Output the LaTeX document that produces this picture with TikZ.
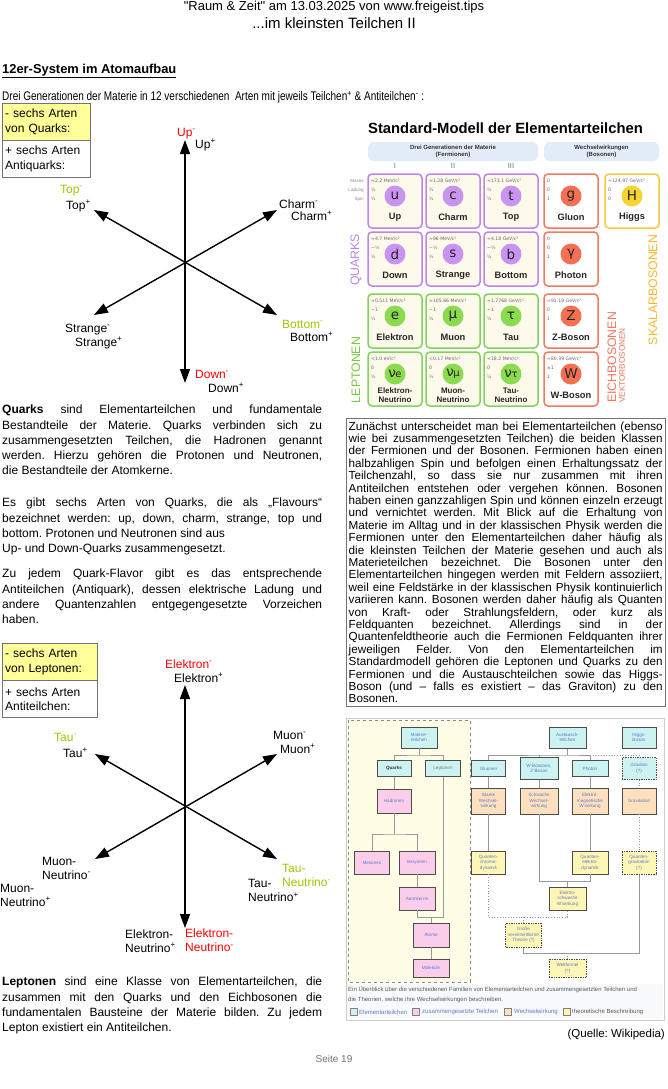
\documentclass[tikz,border=0pt]{standalone}
\usepackage{fontspec}
\setmainfont{Liberation Sans}
\newfontfamily\rohfont{Liberation Sans}
\newfontfamily\smfont{DejaVu Sans}
\usetikzlibrary{arrows.meta}

\definecolor{rotneg}{RGB}{255,0,0}
\definecolor{gruenneg}{RGB}{158,200,0}
\definecolor{kastengelb}{RGB}{255,255,153}
\definecolor{randq}{RGB}{190,132,232}
\definecolor{kreisq}{RGB}{200,148,240}
\definecolor{innenq}{RGB}{253,250,236}
\definecolor{randl}{RGB}{132,210,92}
\definecolor{kreisl}{RGB}{140,218,80}
\definecolor{innenl}{RGB}{253,250,236}
\definecolor{rande}{RGB}{240,122,98}
\definecolor{kreise}{RGB}{244,112,82}
\definecolor{innene}{RGB}{255,255,255}
\definecolor{randh}{RGB}{246,202,62}
\definecolor{kreish}{RGB}{245,212,50}
\definecolor{innenh}{RGB}{255,255,255}
\definecolor{textq}{RGB}{185,135,232}
\definecolor{textl}{RGB}{120,200,70}
\definecolor{texte}{RGB}{240,120,96}
\definecolor{texth}{RGB}{245,185,46}
\definecolor{pille}{RGB}{226,236,249}
\definecolor{elemfarbe}{RGB}{204,243,240}
\definecolor{zusfarbe}{RGB}{250,205,235}
\definecolor{wwfarbe}{RGB}{253,225,190}
\definecolor{theofarbe}{RGB}{253,246,180}
\definecolor{bereich}{RGB}{255,253,229}
\definecolor{linkblau}{RGB}{100,120,200}
\definecolor{bildgrau}{RGB}{248,249,250}

\newcommand\plusT{\textsuperscript{+}}
\newcommand\minusT{\textsuperscript{-}}
\hyphenpenalty=10000
\exhyphenpenalty=10000
\frenchspacing

\begin{document}
\begin{tikzpicture}[x=1pt,y=-1pt,>={Triangle[length=14pt,width=10pt]},
    etikett/.style={inner sep=0pt,anchor=west,font=\fontsize{12}{14}\selectfont,
                    text height=8.6pt,text depth=2.6pt},
    etikett2/.style={inner sep=0pt,anchor=west,align=left,font=\fontsize{12}{14}\selectfont},
    absatz/.style={inner sep=0pt,anchor=north west,text width=320pt,align=justify,
                   font=\fontsize{12}{15.2}\selectfont},
    achse/.style={<->,line width=1.4pt},
    infokasten/.style={draw=black!55,anchor=north west,text width=#1,minimum height=37pt,
                       align=left,inner xsep=3pt,inner ysep=2pt,font=\fontsize{12}{14.5}\selectfont},
    pillstil/.style={fill=pille,rounded corners=6pt,inner sep=0pt,minimum height=19pt,
                     align=center,font=\bfseries\fontsize{6}{7.6}\selectfont,text=black!80},
    roem/.style={inner sep=0pt,text=black!55,font=\fontsize{7.5}{8}\selectfont},
    kopfzeile/.style={inner sep=0pt,anchor=east,text=black!45,font=\fontsize{4.6}{5}\selectfont},
    daten/.style={inner sep=0pt,anchor=west,text=black!60,font=\smfont\fontsize{4.6}{5}\selectfont},
    kugel/.style={circle,inner sep=0pt,minimum size=21pt,font=\smfont\fontsize{13.5}{14}\selectfont,
                  text=black!85},
    teilname/.style={inner sep=0pt,align=center,text=black!85},
    senkrecht/.style={rotate=90,inner sep=0pt,font=\fontsize{12.3}{13}\selectfont},
    kiste/.style={draw=black!70,line width=0.7pt,inner sep=0pt,align=center,text=linkblau,
                  font=\fontsize{4.6}{5.6}\selectfont},
    elem/.style={kiste,fill=elemfarbe},
    zus/.style={kiste,fill=zusfarbe},
    ww/.style={kiste,fill=wwfarbe},
    theo/.style={kiste,fill=theofarbe},
    unsicher/.style={densely dotted,line width=1pt},
    ast/.style={draw=black!40,line width=0.7pt},
    legfeld/.style={draw=black!50,line width=0.5pt,minimum width=7pt,minimum height=7pt,inner sep=0pt},
    legtext/.style={inner sep=0pt,anchor=west,font=\fontsize{6}{7}\selectfont,text=linkblau}]

  \useasboundingbox (0,0) rectangle (668,1089);
  \fill[white] (0,0) rectangle (668,1089);

  % kopf
  \node[inner sep=0pt] (kopf1) at (334,7) {\rohfont\fontsize{13}{14}\selectfont "Raum \& Zeit" am 13.03.2025 von www.freigeist.tips};
  \node[inner sep=0pt] (kopf2) at (334,23) {\fontsize{15}{16}\selectfont ...im kleinsten Teilchen II};
  \node[anchor=west,inner sep=0pt] (titel) at (2,71) {\fontsize{12.9}{14}\selectfont\bfseries\underline{12er-System im Atomaufbau}};
  \node[anchor=west,inner sep=0pt] (einleitung) at (2,97) {\scalebox{0.8}[1]{\fontsize{12.5}{14}\selectfont Drei Generationen der Materie in 12 verschiedenen\ \ Arten mit jeweils Teilchen\plusT\ \& Antiteilchen\minusT\ :}};

  % quarks
  \node[infokasten=82pt,fill=kastengelb] (qkasten) at (2,103) {- sechs Arten\\von Quarks:};
  \node[infokasten=82pt] (qanti) at (qkasten.south west) {+ sechs Arten\\Antiquarks:};

  \coordinate (qup) at (185,140);
  \coordinate (qdown) at (185,383);
  \coordinate (qtl) at (94,210);
  \coordinate (qbr) at (277,315);
  \coordinate (qtr) at (277,210);
  \coordinate (qbl) at (94,315);
  \draw[achse] (qup) -- (qdown);
  \draw[achse] (qtl) -- (qbr);
  \draw[achse] (qtr) -- (qbl);

  \node[etikett,text=rotneg] (upm) at (177,133) {Up\minusT};
  \node[etikett] (upp) at (195,145) {Up\plusT};
  \node[etikett,text=gruenneg] (topm) at (60,190) {Top\minusT};
  \node[etikett] (topp) at (66,206) {Top\plusT};
  \node[etikett] (charmm) at (279,205) {Charm\minusT};
  \node[etikett] (charmp) at (291,217) {Charm\plusT};
  \node[etikett] (strangem) at (65,329) {Strange\minusT};
  \node[etikett] (strangep) at (75,343) {Strange\plusT};
  \node[etikett,text=gruenneg] (bottomm) at (282,325) {Bottom\minusT};
  \node[etikett] (bottomp) at (290,338) {Bottom\plusT};
  \node[etikett,text=rotneg] (downm) at (195,375) {Down\minusT};
  \node[etikett] (downp) at (208,389) {Down\plusT};

  \node[absatz] (quarktext1) at (2,405) {\textbf{Quarks} sind Elementarteilchen und fundamentale\linebreak
    Bestandteile der Materie. Quarks verbinden sich zu\linebreak
    zusammengesetzten Teilchen, die Hadronen genannt\linebreak
    werden. Hierzu gehören die Protonen und Neutronen,\linebreak
    die Bestandteile der Atomkerne.};
  \node[absatz] (quarktext2) at (2,498) {Es gibt sechs Arten von Quarks, die als „Flavours“\linebreak
    bezeichnet werden: up, down, charm, strange, top und\linebreak
    bottom. Protonen und Neutronen sind aus\\
    Up- und Down-Quarks zusammengesetzt.};
  \node[absatz] (quarktext3) at (2,569) {Zu jedem Quark-Flavor gibt es das entsprechende\linebreak
    Antiteilchen (Antiquark), dessen elektrische Ladung und\linebreak
    andere Quantenzahlen entgegengesetzte Vorzeichen\linebreak
    haben.};

  % leptonen
  \node[infokasten=89pt,fill=kastengelb] (lkasten) at (2,643) {- sechs Arten\\von Leptonen:};
  \node[infokasten=89pt] (lanti) at (lkasten.south west) {+ sechs Arten\\Antiteilchen:};

  \coordinate (lup) at (185,685);
  \coordinate (ldown) at (185,928);
  \coordinate (ltl) at (95,754);
  \coordinate (lbr) at (277,859);
  \coordinate (ltr) at (277,754);
  \coordinate (lbl) at (95,859);
  \draw[achse] (lup) -- (ldown);
  \draw[achse] (ltl) -- (lbr);
  \draw[achse] (ltr) -- (lbl);

  \node[etikett,text=rotneg] (elm) at (165,665) {Elektron\minusT};
  \node[etikett] (elp) at (174,679) {Elektron\plusT};
  \node[etikett,text=gruenneg] (taum) at (54,738) {Tau\minusT};
  \node[etikett] (taup) at (63,754) {Tau\plusT};
  \node[etikett] (muonm) at (273,736) {Muon\minusT};
  \node[etikett] (muonp) at (280,750) {Muon\plusT};
  \node[etikett2] (mnm) at (42,868) {Muon-\\Neutrino\minusT};
  \node[etikett2] (mnp) at (0,895) {Muon-\\Neutrino\plusT};
  \node[etikett2,text=gruenneg] (tnm) at (282,875.5) {Tau-\\Neutrino\minusT};
  \node[etikett2] (tnp) at (248,890.5) {Tau-\\Neutrino\plusT};
  \node[etikett2] (enp) at (125,941) {Elektron-\\Neutrino\plusT};
  \node[etikett2,text=rotneg] (enm) at (185,940.5) {Elektron-\\Neutrino\minusT};

  \node[absatz] (leptontext) at (2,977) {\textbf{Leptonen} sind eine Klasse von Elementarteilchen, die\linebreak
    zusammen mit den Quarks und den Eichbosonen die\linebreak
    fundamentalen Bausteine der Materie bilden. Zu jedem\linebreak
    Lepton existiert ein Antiteilchen.};

  % standardmodell
  \node[inner sep=0pt,font=\bfseries\fontsize{14.8}{16}\selectfont] (smtitel) at (505.5,128) {Standard-Modell der Elementarteilchen};
  \node[pillstil,minimum width=170pt] (pferm) at (453,151.5) {Drei Generationen der Materie\\(Fermionen)};
  \node[pillstil,minimum width=115pt] (pbos) at (601.5,151.5) {Wechselwirkungen\\(Bosonen)};
  \node[roem] (gen1) at (395,166) {I};
  \node[roem] (gen2) at (453,166) {II};
  \node[roem] (gen3) at (511,166) {III};
  \node[kopfzeile] (kmasse) at (364,181) {Masse};
  \node[kopfzeile] (kladung) at (364,190) {Ladung};
  \node[kopfzeile] (kspin) at (364,199) {Spin};

  \foreach \cx/\cy/\typ/\mw/\lw/\sw/\sym/\nm/\nf [count=\i] in {
      368/174/q/{≈2.2 MeV\slash c²}/⅔/½/u/Up/9.3,
      426/174/q/{≈1.28 GeV\slash c²}/⅔/½/c/Charm/9.3,
      484/174/q/{≈173.1 GeV\slash c²}/⅔/½/t/Top/9.3,
      544/174/e/0/0/1/g/Gluon/9.3,
      605/174/h/{≈124.97 GeV\slash c²}/0/0/H/Higgs/9.3,
      368/232/q/{≈4.7 MeV\slash c²}/−⅓/½/d/Down/9.3,
      426/232/q/{≈96 MeV\slash c²}/−⅓/½/s/Strange/9.3,
      484/232/q/{≈4.18 GeV\slash c²}/−⅓/½/b/Bottom/9.3,
      544/232/e/0/0/1/γ/Photon/9.3,
      368/294/l/{≈0.511 MeV\slash c²}/−1/½/e/Elektron/9.3,
      426/294/l/{≈105.66 MeV\slash c²}/−1/½/μ/Muon/9.3,
      484/294/l/{≈1.7768 GeV\slash c²}/−1/½/τ/Tau/9.3,
      544/294/e/{≈91.19 GeV\slash c²}/0/1/Z/Z-Boson/9.3,
      368/352/l/{<1.0 eV\slash c²}/0/½/{ν\kern-0.5pt{\fontsize{10}{10}\selectfont e}}/{Elektron-\\Neutrino}/8,
      426/352/l/{<0.17 MeV\slash c²}/0/½/{ν\kern-0.5pt{\fontsize{10}{10}\selectfont μ}}/{Muon-\\Neutrino}/8,
      484/352/l/{<18.2 MeV\slash c²}/0/½/{ν\kern-0.5pt{\fontsize{10}{10}\selectfont τ}}/{Tau-\\Neutrino}/8,
      544/352/e/{≈80.39 GeV\slash c²}/±1/1/W/W-Boson/9.3} {
    \draw[draw=rand\typ,fill=innen\typ,line width=1.5pt,rounded corners=4pt] (\cx,\cy) rectangle ++(54,54);
    \node[daten] (m\i) at (\cx+3,\cy+7) {\mw};
    \node[daten] (l\i) at (\cx+3,\cy+16) {\lw};
    \node[daten] (s\i) at (\cx+3,\cy+25) {\sw};
    \node[kugel,fill=kreis\typ] (k\i) at (\cx+27,\cy+22) {\sym};
    \node[teilname,font=\bfseries\fontsize{\nf}{9}\selectfont] (n\i) at (\cx+27,\cy+43) {\nm};
  }

  \node[senkrecht,text=textq] (tquarks) at (356,260) {QUARKS};
  \node[senkrecht,text=textl] (tleptonen) at (356,370) {LEPTONEN};
  \node[senkrecht,text=texte] (teich) at (612,357.5) {EICHBOSONEN};
  \node[senkrecht,text=texte,font=\fontsize{8.2}{9}\selectfont] (tvektor) at (622,365.5) {VEKTORBOSONEN};
  \node[senkrecht,text=texth] (tskalar) at (653,290) {SKALARBOSONEN};

  % textkasten
  \node[draw=black!55,anchor=north west,text width=314pt,align=justify,inner xsep=2.5pt,
        inner ysep=3.5pt,font=\fontsize{11.7}{12.4}\selectfont] (erklaerung) at (346,418) {Zunächst unterscheidet man bei Elementarteilchen (ebenso\linebreak
    wie bei zusammengesetzten Teilchen) die beiden Klassen\linebreak
    der Fermionen und der Bosonen. Fermionen haben einen\linebreak
    halbzahligen Spin und befolgen einen Erhaltungssatz der\linebreak
    Teilchenzahl, so dass sie nur zusammen mit ihren\linebreak
    Antiteilchen entstehen oder vergehen können. Bosonen\linebreak
    haben einen ganzzahligen Spin und können einzeln erzeugt\linebreak
    und vernichtet werden. Mit Blick auf die Erhaltung von\linebreak
    Materie im Alltag und in der klassischen Physik werden die\linebreak
    Fermionen unter den Elementarteilchen daher häufig als\linebreak
    die kleinsten Teilchen der Materie gesehen und auch als\linebreak
    Materieteilchen bezeichnet. Die Bosonen unter den\linebreak
    Elementarteilchen hingegen werden mit Feldern assoziiert,\linebreak
    weil eine Feldstärke in der klassischen Physik kontinuierlich\linebreak
    variieren kann. Bosonen werden daher häufig als Quanten\linebreak
    von Kraft- oder Strahlungsfeldern, oder kurz als\linebreak
    Feldquanten bezeichnet. Allerdings sind in der\linebreak
    Quantenfeldtheorie auch die Fermionen Feldquanten ihrer\linebreak
    jeweiligen Felder. Von den Elementarteilchen im\linebreak
    Standardmodell gehören die Leptonen und Quarks zu den\linebreak
    Fermionen und die Austauschteilchen sowie das Higgs-\linebreak
    Boson (und – falls es existiert – das Graviton) zu den\linebreak
    Bosonen.};

  % familien
  \draw[draw=black!20,fill=white] (346,718) rectangle (664,1020);
  \fill[bildgrau] (347,984) rectangle (663,1019);
  \draw[dashed,draw=black!45,fill=bereich] (348,720) rectangle (470,982);

  \node[elem,minimum width=36pt,minimum height=21pt] (mat) at (419,737.5) {Materie-\\teilchen};
  \node[elem,minimum width=34pt,minimum height=16pt,text=black!80,font=\bfseries\fontsize{4.6}{5.6}\selectfont] (quarks) at (394,768.5) {Quarks};
  \node[elem,minimum width=35pt,minimum height=16pt,text=black!50] (leptonen) at (443,768.5) {Leptonen};
  \node[zus,minimum width=34pt,minimum height=24pt] (hadronen) at (394,801) {Hadronen};
  \node[zus,minimum width=35pt,minimum height=23pt] (mesonen) at (372,862.5) {Mesonen};
  \node[zus,minimum width=36pt,minimum height=23pt] (baryonen) at (417,862.5) {Baryonen};
  \node[zus,minimum width=36pt,minimum height=23pt] (atomkerne) at (417,898.5) {Atomkerne};
  \node[zus,minimum width=36pt,minimum height=24pt] (atome) at (431,935) {Atome};
  \node[zus,minimum width=36pt,minimum height=18pt] (molekuele) at (431,968) {Moleküle};

  \node[elem,minimum width=37pt,minimum height=21pt,line width=1pt] (austausch) at (567.5,737.5) {Austausch-\\teilchen};
  \node[elem,minimum width=34pt,minimum height=21pt] (higgs) at (639,737.5) {Higgs-\\Boson};
  \node[elem,minimum width=34pt,minimum height=16pt] (gluonen) at (488.5,768.5) {Gluonen};
  \node[elem,minimum width=38pt,minimum height=22pt] (wzboson) at (539,768.5) {W-Bosonen,\\Z-Boson};
  \node[elem,minimum width=36pt,minimum height=16pt] (photon) at (590,768.5) {Photon};
  \node[elem,unsicher,minimum width=34pt,minimum height=22pt] (graviton) at (639,768.5) {Graviton\\(?)};
  \node[ww,minimum width=34pt,minimum height=26pt] (starke) at (488.5,801) {Starke\\Wechsel-\\wirkung};
  \node[ww,minimum width=38pt,minimum height=26pt] (schwache) at (539,801) {Schwache\\Wechsel-\\wirkung};
  \node[ww,minimum width=36pt,minimum height=26pt] (elektromag) at (590,801) {Elektro-\\magnetische\\W'wirkung};
  \node[ww,minimum width=34pt,minimum height=26pt] (gravitation) at (639,801) {Gravitation};
  \node[theo,minimum width=34pt,minimum height=23pt] (qcd) at (488.5,862.5) {Quanten-\\chromo-\\dynamik};
  \node[theo,minimum width=36pt,minimum height=23pt] (qed) at (590,862.5) {Quanten-\\elektro-\\dynamik};
  \node[theo,unsicher,minimum width=34pt,minimum height=23pt] (qg) at (639,862.5) {Quanten-\\gravitation\\(?)};
  \node[theo,minimum width=37pt,minimum height=23pt] (eschwach) at (567.5,898.5) {Elektro-\\schwache\\W'wirkung};
  \node[theo,unsicher,minimum width=36pt,minimum height=24pt] (gut) at (523.5,935) {Große\\vereinheitlichte\\Theorie (?)};
  \node[theo,unsicher,minimum width=37pt,minimum height=18pt] (welt) at (567.5,968) {Weltformel\\(?)};

  \coordinate (matbar) at (419,755);
  \coordinate (hadbar) at (394,834);
  \coordinate (kernbar) at (431,917);
  \coordinate (wwbar) at (567.5,755);
  \coordinate (ewbar) at (567.5,881);
  \coordinate (gutbar) at (523.5,917);
  \coordinate (weltbar) at (567.5,953);

  \draw[ast] (mat) -- (matbar);
  \draw[ast] (quarks) |- (matbar) -| (leptonen);
  \draw[ast] (quarks) -- (hadronen);
  \draw[ast] (hadronen) -- (hadbar);
  \draw[ast] (mesonen) |- (hadbar) -| (baryonen);
  \draw[ast] (baryonen) -- (atomkerne);
  \draw[ast] (atomkerne) |- (kernbar) -| (leptonen);
  \draw[ast] (kernbar) -- (atome);
  \draw[ast] (atome) -- (molekuele);

  \draw[ast] (austausch) -- (wwbar);
  \draw[ast] (gluonen) |- (wwbar) -| (photon);
  \draw[ast] (wzboson) -- (wzboson |- wwbar);
  \draw[ast,dotted] (photon |- wwbar) -| (graviton);
  \draw[ast] (gluonen) -- (starke);
  \draw[ast] (starke) -- (qcd);
  \draw[ast] (wzboson) -- (schwache);
  \draw[ast] (photon) -- (elektromag);
  \draw[ast] (elektromag) -- (qed);
  \draw[ast,dotted] (graviton) -- (gravitation);
  \draw[ast,dotted] (gravitation) -- (qg);
  \draw[ast] (schwache) |- (ewbar) -| (qed);
  \draw[ast] (ewbar) -- (eschwach);
  \draw[ast,dotted] (qcd) |- (gutbar) -| (eschwach);
  \draw[ast,dotted] (gutbar) -- (gut);
  \draw[ast] (gut) |- (weltbar) -| (qg);
  \draw[ast,dotted] (weltbar) -- (welt);

  \node[inner sep=0pt,anchor=north west,align=left,text=black!65,font=\fontsize{6}{10.5}\selectfont] (bildtext) at (348,986) {Ein Überblick über die verschiedenen Familien von Elementarteilchen und zusammengesetzten Teilchen und\\die Theorien, welche ihre Wechselwirkungen beschreiben.};
  \node[legfeld,fill=elemfarbe] (leg1) at (353.5,1012) {};
  \node[legtext] (legt1) at (359,1012) {Elementarteilchen};
  \node[legfeld,fill=zusfarbe] (leg2) at (416,1012) {};
  \node[legtext] (legt2) at (422,1012) {zusammengesetzte Teilchen};
  \node[legfeld,fill=wwfarbe] (leg3) at (508,1012) {};
  \node[legtext] (legt3) at (514,1012) {Wechselwirkung};
  \node[legfeld,fill=theofarbe] (leg4) at (566.5,1012) {};
  \node[legtext,text=black!65] (legt4) at (572,1012) {theoretische Beschreibung};

  % fuss
  \node[anchor=east,inner sep=0pt,font=\fontsize{11.5}{13}\selectfont] (quelle) at (665,1035) {(Quelle: Wikipedia)};
  \node[inner sep=0pt,text=black!55,font=\fontsize{10}{11}\selectfont] (seite) at (334,1059) {Seite 19};
\end{tikzpicture}
\end{document}
